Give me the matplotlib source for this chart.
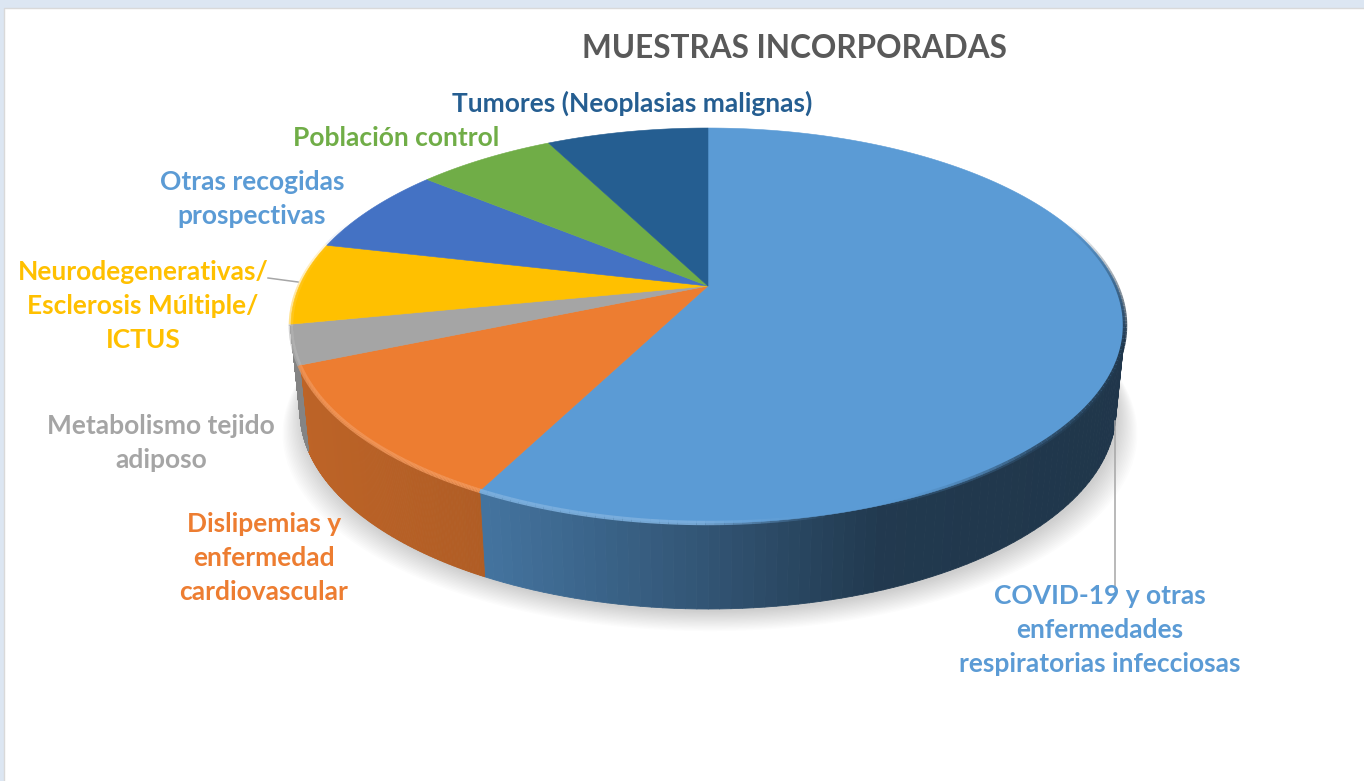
"""3D pie chart: muestras incorporadas"""

import numpy as np
import matplotlib
matplotlib.use("Agg")
import matplotlib.pyplot as plt
from matplotlib.collections import LineCollection, PolyCollection
from matplotlib.colors import to_rgb

plt.rcParams['font.family'] = ['Lato', 'DejaVu Sans']

TITLE = 'MUESTRAS INCORPORADAS'
categories = ['COVID-19 y otras\nenfermedades\nrespiratorias infecciosas',
              'Dislipemias y\nenfermedad\ncardiovascular',
              'Metabolismo tejido\nadiposo',
              'Neurodegenerativas/\nEsclerosis Múltiple/\nICTUS',
              'Otras recogidas\nprospectivas',
              'Población control',
              'Tumores (Neoplasias malignas)']
values = [57.6, 11.1, 3.2, 6.7, 7.3, 6.5, 7.6]
colors = ['#5b9bd5', '#ed7d31', '#a5a5a5', '#ffc000', '#4472c4', '#70ad47', '#255e91']
label_colors = ['#5b9bd5', '#ed7d31', '#a5a5a5', '#ffc000', '#5b9bd5', '#70ad47', '#255e91']
label_pos = [(1100, 630.5), (264, 558.5), (161, 443), (143, 306), (252, 199), (396, 138), (632, 103)]

# pie geometry in pixels
CX, CY = 708, 286
A, B, K = 408.6, 189.6, 0.2
WALL = 86
WALL_SCALE = 0.978


def rim(t):
    """Perspective projection of the disc rim, t clockwise from the top."""
    w = 1 + K * np.cos(t)
    return CX + A * np.sin(t) / w, CY - B * np.cos(t) / w


def wall_shade(x):
    return np.interp(x, [290, 490, 700, 880, 1125], [0.8, 0.74, 0.55, 0.37, 0.35])


fig = plt.figure(figsize=(13.64, 7.81), dpi=100, facecolor='#dce6f2')
ax = fig.add_axes([0, 0, 1, 1])
ax.set_xlim(0, 1364)
ax.set_ylim(781, 0)
ax.axis('off')

# white panel behind the chart
ax.fill([4, 1375, 1375, 4], [8, 8, 795, 795], color='white', ec='#d9d9d9', lw=1, zorder=0)

fractions = np.array(values) / sum(values)
edges = np.concatenate([[0], np.cumsum(fractions)]) * 2 * np.pi

# soft shadow under the disc
tt = np.linspace(0, 2 * np.pi, 300)
sx, sy = rim(tt)
for d in np.linspace(24, 0, 16):
    ax.fill(CX + (sx - CX) * WALL_SCALE * (1 + d / 500) + 2, sy + WALL + 3 + d * 0.8,
            color='#000000', alpha=0.012, lw=0, zorder=1)

# side wall, only the front part shows
for i, col in enumerate(colors):
    t = np.linspace(edges[i], edges[i + 1], 160)
    x, y = rim(t)
    bx = CX + (x - CX) * WALL_SCALE
    by = y + WALL
    polys, cols = [], []
    base = np.array(to_rgb(col))
    for j in range(len(t) - 1):
        if np.cos(t[j]) > -0.2:
            continue
        polys.append([(x[j], y[j]), (x[j + 1], y[j + 1]), (bx[j + 1], by[j + 1]), (bx[j], by[j])])
        cols.append(base * wall_shade((x[j] + x[j + 1]) / 2))
    if polys:
        ax.add_collection(PolyCollection(polys, facecolors=cols, edgecolors=cols, linewidths=0.6, zorder=2))

# top surface
for i, col in enumerate(colors):
    t = np.linspace(edges[i], edges[i + 1], 160)
    x, y = rim(t)
    ax.fill(np.r_[CX, x], np.r_[CY, y], color=col, lw=0.4, zorder=3)

# bevel on the rim: light at the front left, dark on the right
for i, col in enumerate(colors):
    t = np.linspace(edges[i], edges[i + 1], 200)
    x, y = rim(t)
    seg = np.stack([np.c_[x[:-1], y[:-1]], np.c_[x[1:], y[1:]]], axis=1)
    tm = (t[:-1] + t[1:]) / 2
    xm = (x[:-1] + x[1:]) / 2
    base = np.array(to_rgb(col))
    light = np.interp(xm, [290, 700, 830], [0.3, 0.3, 0.0])[:, None]
    dark = np.interp(xm, [880, 1030, 1125], [0.0, 0.55, 0.65])[:, None]
    rgb = base + (1 - base) * light * 0.7
    rgb = rgb * (1 - dark)
    fade = np.interp(np.cos(tm), [-0.3, 0.35], [1, 0])
    alpha = np.maximum(light[:, 0] * 3, dark[:, 0] * 1.5).clip(0, 1) * fade
    rgba = np.c_[rgb, alpha]
    ax.add_collection(LineCollection(seg, colors=rgba, linewidths=3.2, zorder=4))

# leader lines
ax.plot([268, 298], [278, 282], color='#a6a6a6', lw=1.1, zorder=5)
ax.plot([1115, 1115], [421, 590], color='#a6a6a6', lw=1.1, zorder=5)

ax.text(794.5, 48, TITLE, ha='center', va='center', fontsize=22.7, fontweight='bold', color='#595959')
for name, pos, col in zip(categories, label_pos, label_colors):
    ax.text(pos[0], pos[1], name, ha='center', va='center', fontsize=19, fontweight='bold',
            color=col, linespacing=1.5, zorder=6)

fig.savefig('out.png', dpi=100, facecolor=fig.get_facecolor())
plt.close(fig)
